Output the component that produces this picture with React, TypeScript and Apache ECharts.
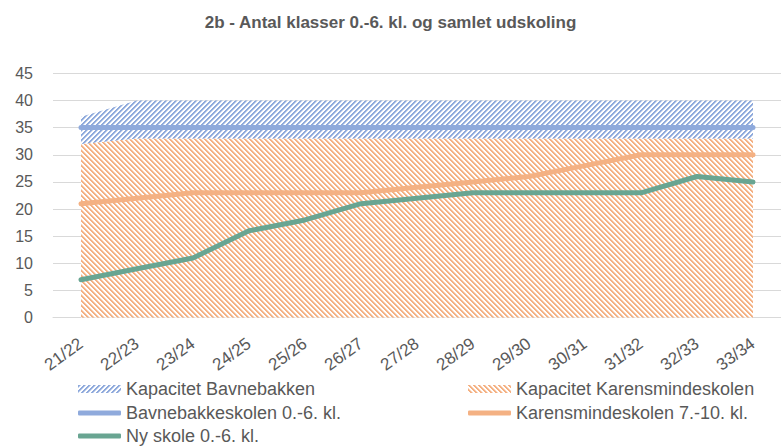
import React, { useEffect, useRef } from "react";
import * as echarts from "echarts";

const categories = ["21/22", "22/23", "23/24", "24/25", "25/26", "26/27", "27/28", "28/29", "29/30", "30/31", "31/32", "32/33", "33/34"];
const kapKarens = [32, 33, 33, 33, 33, 33, 33, 33, 33, 33, 33, 33, 33];
const kapBavn = [5, 7, 7, 7, 7, 7, 7, 7, 7, 7, 7, 7, 7];
const bavnLine = [35, 35, 35, 35, 35, 35, 35, 35, 35, 35, 35, 35, 35];
const karensLine = [21, 22, 23, 23, 23, 23, 24, 25, 26, 28, 30, 30, 30];
const nySkole = [7, 9, 11, 16, 18, 21, 22, 23, 23, 23, 23, 26, 25];

const names = {
  kapB: "Kapacitet Bavnebakken",
  kapK: "Kapacitet Karensmindeskolen",
  bavn: "Bavnebakkeskolen 0.-6. kl.",
  kar: "Karensmindeskolen 7.-10. kl.",
  ny: "Ny skole 0.-6. kl.",
};

const BLUE = "#8FAADC";
const ORANGE = "#F4B183";
const GREEN = "#69A592";
const FONT = "'Liberation Sans', Arial, sans-serif";

function hexToRgb(h: string) {
  const v = parseInt(h.slice(1), 16);
  return [(v >> 16) & 255, (v >> 8) & 255, v & 255];
}

function makePattern(color: string, forward: boolean) {
  const c = document.createElement("canvas");
  const n = 5;
  c.width = n;
  c.height = n;
  const ctx = c.getContext("2d")!;
  const [r, g, b] = hexToRgb(color);
  const half = `rgb(${Math.round((r + 255) / 2)},${Math.round((g + 255) / 2)},${Math.round((b + 255) / 2)})`;
  ctx.fillStyle = "#ffffff";
  ctx.fillRect(0, 0, n, n);
  for (let x = 0; x < n; x++) {
    for (let y = 0; y < n; y++) {
      const v = forward ? (x + y) % n : (((x - y) % n) + n) % n;
      if (v < 2) {
        ctx.fillStyle = color;
        ctx.fillRect(x, y, 1, 1);
      } else if (v === 2) {
        ctx.fillStyle = half;
        ctx.fillRect(x, y, 1, 1);
      }
    }
  }
  return { image: c, repeat: "repeat", imageWidth: n, imageHeight: n } as any;
}

export default function App() {
  const ref = useRef<HTMLDivElement>(null);
  useEffect(() => {
    document.body.style.margin = "0";
    const chart = echarts.init(ref.current!, undefined, { renderer: "svg" });
    const blueP = makePattern(BLUE, true);
    const orangeP = makePattern(ORANGE, false);
    const legendText = { fontFamily: FONT, fontSize: 18, color: "#595959", lineHeight: 18 };
    const leg = (name: string, left: number, top: number, isArea: boolean, color: any) => ({
      left,
      top,
      padding: 0,
      itemWidth: 43,
      itemHeight: isArea ? 8 : 5,
      itemGap: 4,
      textStyle: legendText,
      data: [{ name, icon: isArea ? "rect" : "roundRect", itemStyle: { color } }],
    });
    chart.setOption({
      animation: false,
      title: {
        text: "2b - Antal klasser 0.-6. kl. og samlet udskoling",
        left: "center",
        top: 9,
        textStyle: { fontFamily: FONT, fontSize: 17, fontWeight: "bold", color: "#595959" },
      },
      grid: { left: 53, right: -5, top: 73.3, bottom: 130.3, containLabel: false },
      legend: [
        leg(names.kapB, 78, 380, true, blueP),
        leg(names.bavn, 78, 404, false, BLUE),
        leg(names.ny, 78, 427, false, GREEN),
        leg(names.kapK, 468, 380, true, orangeP),
        leg(names.kar, 468, 404, false, ORANGE),
      ],
      xAxis: {
        type: "category",
        data: categories,
        boundaryGap: true,
        axisLine: { show: true, lineStyle: { color: "#D9D9D9" } },
        axisTick: { show: false },
        axisLabel: { rotate: 36, fontFamily: FONT, fontSize: 17, color: "#595959", margin: 24, interval: 0 },
      },
      yAxis: {
        type: "value",
        min: 0,
        max: 45,
        interval: 5,
        axisLine: { show: false },
        axisTick: { show: false },
        axisLabel: { fontFamily: FONT, fontSize: 16, color: "#595959", margin: 20 },
        splitLine: { lineStyle: { color: "#D9D9D9", width: 1 } },
      },
      series: [
        {
          name: names.kapK,
          type: "line",
          stack: "cap",
          data: kapKarens,
          symbol: "none",
          lineStyle: { width: 0 },
          itemStyle: { color: ORANGE },
          areaStyle: { color: orangeP, opacity: 1 },
        },
        {
          name: names.kapB,
          type: "line",
          stack: "cap",
          data: kapBavn,
          symbol: "none",
          lineStyle: { width: 0 },
          itemStyle: { color: BLUE },
          areaStyle: { color: blueP, opacity: 1 },
        },
        {
          name: names.bavn,
          type: "line",
          data: bavnLine,
          symbol: "none",
          lineStyle: { color: BLUE, width: 5, cap: "round" },
          itemStyle: { color: BLUE },
        },
        {
          name: names.kar,
          type: "line",
          data: karensLine,
          symbol: "none",
          lineStyle: { color: ORANGE, width: 5, cap: "round" },
          itemStyle: { color: ORANGE },
        },
        {
          name: names.ny,
          type: "line",
          data: nySkole,
          symbol: "none",
          lineStyle: { color: GREEN, width: 5, cap: "round" },
          itemStyle: { color: GREEN },
        },
      ],
    });
    return () => chart.dispose();
  }, []);
  return <div ref={ref} style={{ width: 781, height: 448 }} />;
}
